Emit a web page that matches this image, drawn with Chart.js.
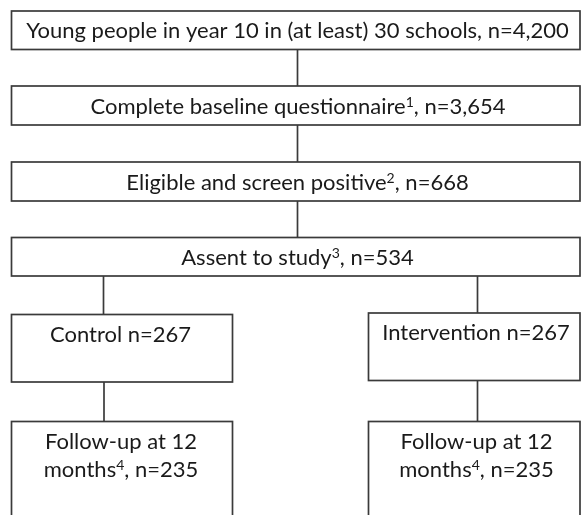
<!DOCTYPE html>
<html>
<head>
<meta charset="utf-8">
<script src="https://cdn.jsdelivr.net/npm/chart.js@4"></script>
<style>
  html, body { margin: 0; padding: 0; background: #fff; }
  #flow { display: block; }
</style>
</head>
<body>
<canvas id="flow" width="582" height="515"></canvas>
<script>
// Flow of participants
const stageNames = [
  "Young people in year 10 in (at least) 30 schools",
  "Complete baseline questionnaire",
  "Eligible and screen positive",
  "Assent to study",
  "Control",
  "Intervention",
  "Follow-up at 12 months",
  "Follow-up at 12 months",
];
const stageCounts = [4200, 3654, 668, 534, 267, 267, 235, 235];
const footnotes = ["", "1", "2", "3", "", "", "4", "4"];

// box layout in page units (x 0-582, y 0-515 from the top)
const boxes = [
  { x0: 11.5, x1: 580, y0: 11, y1: 49.5, cx: 297.5, lines: [37.5] },
  { x0: 11.5, x1: 580, y0: 86, y1: 125, cx: 298, lines: [113.5] },
  { x0: 11.5, x1: 580, y0: 162, y1: 201, cx: 297.5, lines: [189.5] },
  { x0: 11.5, x1: 580, y0: 237.5, y1: 276, cx: 297.5, lines: [264.5] },
  { x0: 11.5, x1: 232.5, y0: 314.5, y1: 382, cx: 120.5, lines: [341.5] },
  { x0: 368.5, x1: 580, y0: 313, y1: 380.5, cx: 476, lines: [340] },
  { x0: 11.5, x1: 232.5, y0: 421.5, y1: 530, cx: 121, lines: [448.5, 476.5] },
  { x0: 368.5, x1: 580, y0: 421.5, y1: 530, cx: 476.5, lines: [448.5, 476.5] },
];
const links = [
  [297.5, 49.5, 297.5, 86],
  [297.5, 125, 297.5, 162],
  [297.5, 201, 297.5, 237.5],
  [103.5, 276, 103.5, 314.5],
  [477.5, 276, 477.5, 313],
  [104, 382, 104, 421.5],
  [477.5, 380.5, 477.5, 421.5],
];

function fmt(n) {
  return n.toLocaleString("en-US");
}

// text of each box as lines of [text, superscript?] pieces
function boxText(i) {
  const n = "n=" + fmt(stageCounts[i]);
  const name = stageNames[i];
  if (i >= 6) {
    const cut = name.lastIndexOf(" ");
    return [
      [[name.slice(0, cut), false]],
      [[name.slice(cut + 1), false], [footnotes[i], true], [", " + n, false]],
    ];
  }
  if (i >= 4) return [[[name + " " + n, false]]];
  const line = [[name, false]];
  if (footnotes[i]) line.push([footnotes[i], true]);
  line.push([", " + n, false]);
  return [line];
}

const mainFont = "22px Lato, 'Liberation Sans', sans-serif";
const supFont = "14px Lato, 'Liberation Sans', sans-serif";

const flowPlugin = {
  id: "flowBoxes",
  afterDraw(chart) {
    const ctx = chart.ctx;
    const xs = chart.scales.x;
    const ys = chart.scales.y;
    const px = (v) => xs.getPixelForValue(v);
    const py = (v) => ys.getPixelForValue(v);
    ctx.save();
    ctx.strokeStyle = "#3a3a3a";
    ctx.lineWidth = 1.7;
    links.forEach(([x0, y0, x1, y1]) => {
      ctx.beginPath();
      ctx.moveTo(px(x0), py(y0));
      ctx.lineTo(px(x1), py(y1));
      ctx.stroke();
    });
    boxes.forEach((b, i) => {
      ctx.strokeRect(px(b.x0), py(b.y0), px(b.x1) - px(b.x0), py(b.y1) - py(b.y0));
      const lines = boxText(i);
      ctx.fillStyle = "#1a1a1a";
      ctx.textBaseline = "alphabetic";
      ctx.textAlign = "left";
      lines.forEach((segs, li) => {
        let w = 0;
        segs.forEach(([t, sup]) => {
          ctx.font = sup ? supFont : mainFont;
          w += ctx.measureText(t).width;
        });
        let x = px(b.cx) - w / 2;
        const y = py(b.lines[li]);
        segs.forEach(([t, sup]) => {
          ctx.font = sup ? supFont : mainFont;
          ctx.fillText(t, x, sup ? y - 7 : y);
          x += ctx.measureText(t).width;
        });
      });
    });
    ctx.restore();
  },
};

new Chart(document.getElementById("flow"), {
  type: "scatter",
  data: { datasets: [{ data: [], pointRadius: 0 }] },
  options: {
    responsive: false,
    animation: false,
    devicePixelRatio: 1,
    layout: { padding: 0 },
    plugins: { legend: { display: false }, tooltip: { enabled: false } },
    scales: {
      x: { type: "linear", min: 0, max: 582, display: false },
      y: { type: "linear", min: 0, max: 515, reverse: true, display: false },
    },
  },
  plugins: [flowPlugin],
});
</script>
</body>
</html>
